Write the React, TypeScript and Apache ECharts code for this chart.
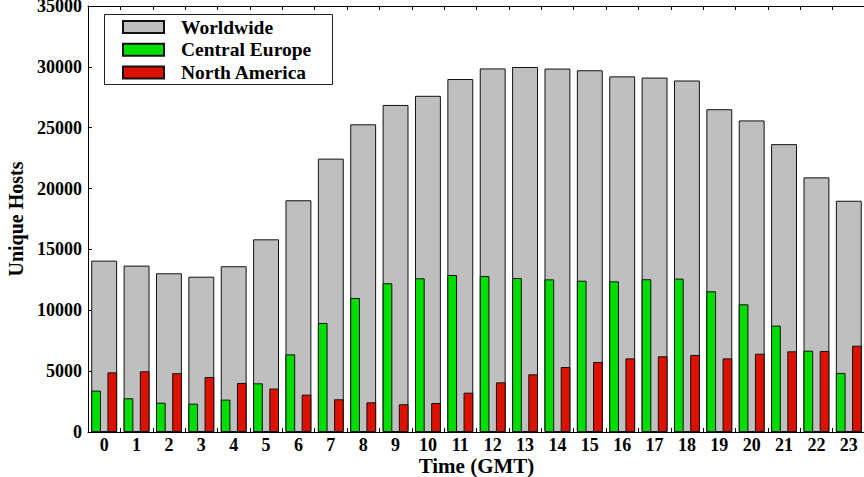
import React, { useEffect, useRef } from "react";
import * as echarts from "echarts";

const hours = ["0","1","2","3","4","5","6","7","8","9","10","11","12","13","14","15","16","17","18","19","20","21","22","23"];
const worldwide = [14080, 13670, 13040, 12760, 13620, 15830, 19040, 22460, 25280, 26870, 27620, 29000, 29870, 29990, 29860, 29720, 29220, 29120, 28880, 26520, 25600, 23650, 20920, 19000];
const centralEurope = [3400, 2770, 2410, 2330, 2660, 4000, 6380, 8960, 11010, 12220, 12630, 12900, 12820, 12650, 12540, 12430, 12380, 12550, 12600, 11560, 10490, 8740, 6680, 4850];
const northAmerica = [4900, 4990, 4830, 4520, 4030, 3570, 3070, 2690, 2440, 2280, 2380, 3230, 4080, 4740, 5340, 5750, 6050, 6220, 6330, 6050, 6430, 6630, 6660, 7090];

const FONT = "'Liberation Serif', 'Times New Roman', serif";

export default function App() {
  const ref = useRef<HTMLDivElement>(null);
  useEffect(() => {
    document.body.style.margin = "0";
    const chart = echarts.init(ref.current!, null, { renderer: "svg" });
    const edge = { borderColor: "#111", borderWidth: 1 };
    chart.setOption({
      animation: false,
      backgroundColor: "#fff",
      grid: { left: 88, top: 6, right: -1, bottom: 45, containLabel: false, outerBoundsMode: "none" },
      legend: {
        orient: "vertical",
        left: 122,
        top: 17,
        padding: 0,
        itemWidth: 41,
        itemHeight: 12,
        itemGap: 2.7,
        icon: "rect",
        data: ["Worldwide", "Central Europe", "North America"],
        textStyle: { fontFamily: FONT, fontWeight: "bold", fontSize: 19.5, color: "#000", padding: [0, 0, 0, 12] },
      },
      graphic: [
        { type: "rect", shape: { x: 104.5, y: 14.5, width: 228, height: 70 }, style: { fill: "none", stroke: "#222", lineWidth: 1 }, silent: true, z: 100 },
      ],
      xAxis: [
        {
          type: "category",
          data: hours,
          position: "bottom",
          axisLine: { show: true, lineStyle: { color: "#000", width: 1 } },
          axisTick: { show: true, inside: true, length: 4, lineStyle: { color: "#000" } },
          axisLabel: { fontFamily: FONT, fontWeight: "bold", fontSize: 18, lineHeight: 16, color: "#000", margin: 5 },
          splitLine: { show: false },
          name: "Time (GMT)",
          nameLocation: "middle",
          nameMoveOverlap: false,
          nameGap: 25,
          nameTextStyle: { fontFamily: FONT, fontWeight: "bold", fontSize: 21, lineHeight: 18, color: "#000" },
        },
        { type: "category", data: hours, position: "bottom", show: false },
        {
          type: "category",
          data: hours,
          position: "top",
          axisLine: { show: true, lineStyle: { color: "#000", width: 1 } },
          axisTick: { show: true, inside: true, length: 4, lineStyle: { color: "#000" } },
          axisLabel: { show: false },
          splitLine: { show: false },
        },
      ],
      yAxis: {
        type: "value",
        min: 0,
        max: 35000,
        interval: 5000,
        axisLine: { show: true, lineStyle: { color: "#000", width: 1 } },
        axisTick: { show: true, inside: true, length: 4, lineStyle: { color: "#000" } },
        axisLabel: { fontFamily: FONT, fontWeight: "bold", fontSize: 18, color: "#000", margin: 6, formatter: (v: number) => String(v) },
        splitLine: { show: false },
        name: "Unique Hosts",
        nameLocation: "middle",
        nameGap: 60,
        nameTextStyle: { fontFamily: FONT, fontWeight: "bold", fontSize: 20, color: "#000" },
      },
      series: [
        { name: "Worldwide", type: "bar", xAxisIndex: 0, data: worldwide, barWidth: "80%", itemStyle: { color: "#bfbfbf", ...edge } },
        { name: "Central Europe", type: "bar", xAxisIndex: 1, data: centralEurope, barWidth: "30%", barGap: "66.7%", itemStyle: { color: "#00dd00", ...edge } },
        { name: "North America", type: "bar", xAxisIndex: 1, data: northAmerica, barWidth: "30%", barGap: "66.7%", itemStyle: { color: "#dd1100", ...edge } },
      ],
    });
    return () => chart.dispose();
  }, []);
  return <div ref={ref} style={{ width: 864, height: 477 }} />;
}
